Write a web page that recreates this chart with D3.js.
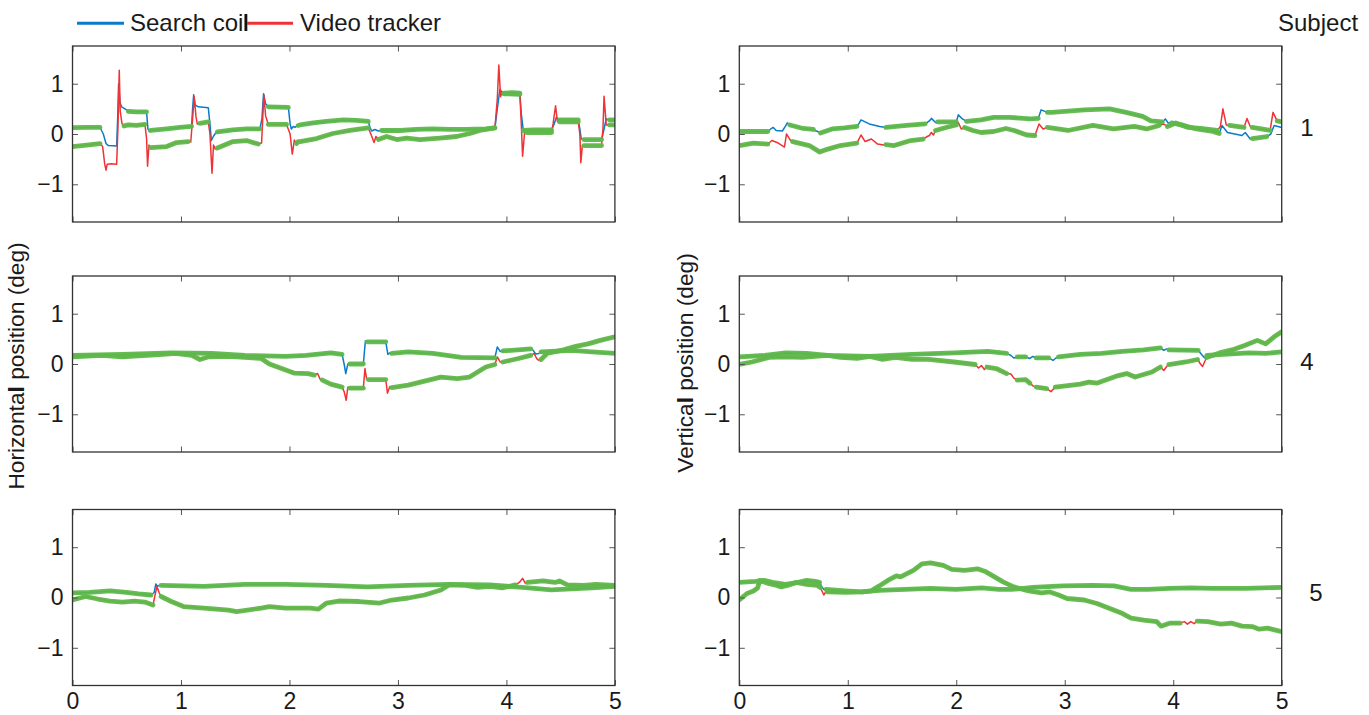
<!DOCTYPE html>
<html><head><meta charset="utf-8">
<script src="https://cdn.jsdelivr.net/npm/d3@7/dist/d3.min.js"></script>
<style>
html,body{margin:0;padding:0;background:#fff;}
svg{display:block;font-family:"Liberation Sans",Arial,Helvetica,sans-serif;}
</style></head>
<body><svg id="chart" width="1369" height="715"></svg>
<script>
// ---------- data ----------
const timeTicks = [0, 1, 2, 3, 4, 5];
const degTicks = [-1, 0, 1];
const seriesNames = ["Search coil", "Video tracker"];
const subjects = ["1", "4", "5"];
const axisLabels = ["Horizontal position (deg)", "Vertical position (deg)"];

// Subject 1, horizontal
const hCoil1 = [[0,0.125],[0.13,0.13],[0.254,0.13],[0.284,0.0],[0.309,-0.19],[0.33,-0.23],[0.407,-0.24],[0.416,0.3],[0.425,1.0],[0.438,0.62],[0.453,0.54],[0.499,0.48],[0.514,0.45],[0.59,0.44],[0.683,0.44],[0.695,0.10],[0.708,0.05],[0.72,0.07],[0.868,0.10],[0.99,0.13],[1.098,0.15],[1.107,0.5],[1.117,0.78],[1.13,0.58],[1.16,0.54],[1.252,0.52],[1.267,0.2],[1.28,-0.13],[1.298,-0.05],[1.32,0.02],[1.335,0.04],[1.48,0.08],[1.605,0.10],[1.727,0.10],[1.746,0.3],[1.761,0.80],[1.78,0.60],[1.805,0.54],[1.99,0.53],[2.006,0.2],[2.017,0.10],[2.035,0.15],[2.05,0.13],[2.08,0.17],[2.097,0.18],[2.22,0.22],[2.34,0.25],[2.497,0.28],[2.62,0.27],[2.727,0.25],[2.74,0.15],[2.757,0.06],[2.788,0.09],[2.82,0.06],[2.85,0.07],[3.02,0.07],[3.17,0.09],[3.32,0.10],[3.48,0.09],[3.63,0.09],[3.81,0.10],[3.894,0.12],[3.916,0.5],[3.94,0.89],[3.956,0.84],[3.977,0.81],[4.05,0.82],[4.124,0.81],[4.137,0.4],[4.156,0.07],[4.25,0.08],[4.416,0.08],[4.44,0.2],[4.46,0.33],[4.49,0.28],[4.662,0.28],[4.677,0.1],[4.69,-0.10],[4.714,-0.11],[4.877,-0.11],[4.90,0.1],[4.92,0.30],[4.95,0.28],[5.0,0.28]];
const hVideo1 = [[0,-0.25],[0.13,-0.22],[0.254,-0.19],[0.278,-0.25],[0.297,-0.6],[0.309,-0.72],[0.32,-0.60],[0.36,-0.59],[0.407,-0.60],[0.42,0.2],[0.431,1.27],[0.44,0.45],[0.456,0.21],[0.475,0.16],[0.514,0.18],[0.59,0.17],[0.668,0.19],[0.683,-0.1],[0.692,-0.64],[0.705,-0.22],[0.72,-0.27],[0.868,-0.25],[0.96,-0.17],[1.068,-0.15],[1.09,-0.16],[1.107,0.3],[1.122,0.74],[1.138,0.35],[1.15,0.20],[1.175,0.21],[1.252,0.24],[1.267,0.0],[1.286,-0.78],[1.30,-0.22],[1.316,-0.30],[1.335,-0.28],[1.48,-0.15],[1.605,-0.13],[1.712,-0.20],[1.743,-0.18],[1.764,0.78],[1.78,0.36],[1.805,0.19],[1.973,0.19],[2.006,0.0],[2.026,-0.40],[2.045,-0.12],[2.066,-0.19],[2.08,-0.15],[2.097,-0.15],[2.25,-0.09],[2.40,0.01],[2.558,0.07],[2.727,0.12],[2.75,0.0],[2.78,-0.17],[2.797,-0.05],[2.82,-0.11],[2.895,-0.05],[2.99,-0.11],[3.08,-0.08],[3.203,-0.11],[3.387,-0.08],[3.54,-0.05],[3.663,0.01],[3.755,0.07],[3.894,0.12],[3.916,0.7],[3.93,1.37],[3.946,0.74],[3.96,0.84],[3.977,0.80],[4.124,0.79],[4.137,0.2],[4.149,-0.44],[4.168,0.05],[4.186,0.03],[4.416,0.03],[4.43,0.2],[4.453,0.56],[4.47,0.25],[4.49,0.24],[4.662,0.24],[4.677,0.0],[4.686,-0.57],[4.70,-0.23],[4.714,-0.23],[4.877,-0.23],[4.89,0.1],[4.90,0.75],[4.92,0.18],[4.95,0.18],[5.0,0.18]];
const hCoilFix1 = [[0,0.254],[0.514,0.683],[0.72,1.098],[1.335,1.727],[1.805,1.99],[2.08,2.727],[2.85,3.894],[3.977,4.124],[4.156,4.416],[4.49,4.662],[4.714,4.877],[4.95,5]];
const hVideoFix1 = [[0,0.254],[0.475,0.668],[0.72,1.068],[1.175,1.252],[1.335,1.712],[1.805,1.973],[2.066,2.727],[2.82,3.894],[3.977,4.124],[4.186,4.416],[4.49,4.662],[4.714,4.877],[4.95,5]];

// Subject 1, vertical
const vCoil1 = [[0,0.05],[0.13,0.05],[0.263,0.05],[0.29,0.10],[0.313,0.13],[0.34,0.07],[0.397,0.06],[0.424,0.15],[0.443,0.22],[0.466,0.18],[0.588,0.11],[0.683,0.09],[0.71,0.06],[0.733,0.04],[0.748,0.02],[0.855,0.10],[0.97,0.12],[1.084,0.15],[1.107,0.22],[1.122,0.28],[1.198,0.20],[1.294,0.15],[1.351,0.13],[1.542,0.17],[1.714,0.20],[1.752,0.26],[1.771,0.31],[1.809,0.23],[1.828,0.24],[2.0,0.24],[2.019,0.38],[2.057,0.30],[2.095,0.25],[2.229,0.28],[2.344,0.33],[2.496,0.33],[2.687,0.30],[2.756,0.31],[2.782,0.48],[2.84,0.43],[2.878,0.43],[3.183,0.48],[3.412,0.50],[3.565,0.43],[3.718,0.35],[3.794,0.26],[3.90,0.24],[3.927,0.30],[3.954,0.22],[3.985,0.22],[4.099,0.17],[4.214,0.10],[4.366,0.05],[4.424,0.01],[4.45,0.17],[4.5,0.03],[4.634,-0.03],[4.664,0.03],[4.71,-0.10],[4.729,-0.09],[4.863,-0.05],[4.90,0.0],[4.93,0.17],[5.0,0.13]];
const vVideo1 = [[0,-0.23],[0.13,-0.18],[0.263,-0.20],[0.30,-0.13],[0.359,-0.18],[0.416,-0.26],[0.435,0.0],[0.473,-0.13],[0.492,-0.15],[0.645,-0.23],[0.721,-0.33],[0.74,-0.36],[0.817,-0.30],[0.931,-0.23],[1.084,-0.18],[1.122,-0.02],[1.16,-0.15],[1.218,-0.10],[1.275,-0.20],[1.332,-0.22],[1.351,-0.21],[1.427,-0.23],[1.58,-0.13],[1.695,-0.10],[1.733,-0.05],[1.752,-0.03],[1.771,0.03],[1.79,-0.02],[1.809,0.07],[1.905,0.13],[2.0,0.18],[2.019,0.23],[2.046,0.10],[2.076,0.13],[2.153,0.07],[2.229,0.03],[2.344,0.05],[2.458,0.11],[2.534,0.07],[2.649,-0.02],[2.725,-0.03],[2.763,0.20],[2.80,0.10],[2.84,0.13],[3.03,0.07],[3.26,0.17],[3.45,0.10],[3.641,0.15],[3.756,0.10],[3.87,0.17],[3.908,0.20],[3.947,0.15],[4.023,0.22],[4.137,0.13],[4.252,0.11],[4.405,0.07],[4.435,0.15],[4.458,0.50],[4.489,0.18],[4.519,0.17],[4.653,0.13],[4.68,0.31],[4.71,0.15],[4.729,0.13],[4.893,0.07],[4.92,0.43],[4.958,0.26],[5.0,0.24]];
const vCoilFix1 = [[0,0.263],[0.466,0.683],[0.748,1.084],[1.351,1.714],[1.828,2.0],[2.095,2.756],[2.84,3.90],[3.985,4.424],[4.729,4.863]];
const vVideoFix1 = [[0,0.263],[0.492,1.084],[1.351,1.695],[1.809,2.0],[2.076,2.725],[2.84,3.87],[3.947,4.405],[4.519,4.653],[4.729,4.893],[4.958,5]];

// Subject 4, horizontal
const hCoil4 = [[0,0.17],[0.459,0.19],[0.911,0.22],[1.288,0.21],[1.589,0.17],[1.965,0.15],[2.154,0.17],[2.38,0.22],[2.485,0.19],[2.504,0.0],[2.519,-0.19],[2.538,0.0],[2.556,0.0],[2.681,0.0],[2.70,0.46],[2.718,0.44],[2.888,0.44],[2.907,0.19],[2.925,0.22],[2.944,0.21],[3.095,0.24],[3.321,0.21],[3.584,0.13],[3.893,0.12],[3.916,0.34],[3.942,0.25],[3.968,0.26],[4.224,0.30],[4.243,0.28],[4.27,0.20],[4.30,0.21],[4.319,0.24],[4.601,0.27],[4.789,0.24],[5.0,0.21]];
const hVideo4 = [[0,0.14],[0.271,0.17],[0.459,0.14],[0.836,0.19],[0.949,0.21],[1.099,0.17],[1.175,0.09],[1.25,0.14],[1.438,0.15],[1.589,0.13],[1.739,0.11],[1.815,0.0],[1.928,-0.09],[2.041,-0.18],[2.173,-0.19],[2.229,-0.22],[2.259,-0.19],[2.285,-0.31],[2.304,-0.32],[2.38,-0.40],[2.485,-0.46],[2.504,-0.55],[2.523,-0.72],[2.538,-0.46],[2.556,-0.48],[2.681,-0.48],[2.696,-0.09],[2.711,-0.29],[2.726,-0.31],[2.888,-0.31],[2.903,-0.58],[2.925,-0.45],[2.944,-0.47],[3.095,-0.42],[3.283,-0.32],[3.396,-0.26],[3.547,-0.29],[3.66,-0.26],[3.735,-0.16],[3.81,-0.06],[3.893,-0.01],[3.916,0.14],[3.942,0.04],[3.968,0.04],[4.111,0.11],[4.224,0.17],[4.255,0.21],[4.281,0.10],[4.30,0.07],[4.319,0.09],[4.375,0.21],[4.526,0.28],[4.639,0.35],[4.752,0.40],[4.865,0.47],[5.0,0.54]];
const hCoilFix4 = [[0,2.485],[2.556,2.681],[2.718,2.888],[2.944,3.893],[3.968,4.224],[4.319,5]];
const hVideoFix4 = [[0,2.229],[2.304,2.485],[2.556,2.681],[2.726,2.888],[2.944,3.893],[3.968,4.224],[4.319,5]];

// Subject 4, vertical
const vCoil4 = [[0,0.14],[0.233,0.17],[0.427,0.22],[0.621,0.21],[0.815,0.17],[1.203,0.15],[1.592,0.19],[1.98,0.22],[2.29,0.25],[2.465,0.21],[2.504,0.17],[2.531,0.12],[2.562,0.14],[2.64,0.14],[2.678,0.11],[2.706,0.15],[2.737,0.12],[2.853,0.12],[2.892,0.07],[2.919,0.12],[2.942,0.14],[3.144,0.19],[3.339,0.21],[3.533,0.25],[3.727,0.28],[3.882,0.32],[3.913,0.27],[3.94,0.30],[3.96,0.28],[4.231,0.27],[4.262,0.19],[4.29,0.12],[4.309,0.17],[4.542,0.20],[4.697,0.22],[4.852,0.21],[5.0,0.24]];
const vVideo4 = [[0,-0.01],[0.116,0.04],[0.272,0.13],[0.427,0.14],[0.582,0.13],[0.815,0.17],[0.932,0.13],[1.087,0.11],[1.203,0.15],[1.32,0.09],[1.436,0.13],[1.592,0.09],[1.747,0.09],[1.98,0.04],[2.174,-0.01],[2.205,-0.08],[2.232,-0.03],[2.259,-0.11],[2.283,-0.06],[2.368,-0.09],[2.465,-0.19],[2.504,-0.20],[2.531,-0.28],[2.562,-0.32],[2.64,-0.31],[2.678,-0.38],[2.71,-0.44],[2.737,-0.46],[2.834,-0.49],[2.873,-0.55],[2.912,-0.46],[3.067,-0.42],[3.144,-0.40],[3.222,-0.36],[3.30,-0.38],[3.416,-0.29],[3.494,-0.23],[3.571,-0.19],[3.649,-0.26],[3.727,-0.21],[3.804,-0.16],[3.882,-0.06],[3.913,-0.13],[3.94,-0.05],[3.96,-0.01],[4.115,0.04],[4.224,0.09],[4.251,0.0],[4.27,-0.05],[4.293,0.06],[4.309,0.13],[4.426,0.22],[4.542,0.28],[4.658,0.37],[4.775,0.47],[4.852,0.40],[4.93,0.54],[5.0,0.64]];
const vCoilFix4 = [[0,2.465],[2.562,2.64],[2.737,2.853],[2.942,3.882],[3.96,4.231],[4.309,5]];
const vVideoFix4 = [[0,2.174],[2.283,2.465],[2.562,2.678],[2.737,2.834],[2.912,3.882],[3.96,4.224],[4.309,5]];

// Subject 5, horizontal
const hCoil5 = [[0,0.09],[0.158,0.10],[0.346,0.13],[0.497,0.10],[0.61,0.07],[0.723,0.05],[0.753,0.10],[0.768,0.27],[0.783,0.22],[0.798,0.24],[0.817,0.24],[1.212,0.22],[1.589,0.26],[1.965,0.26],[2.342,0.24],[2.718,0.21],[3.095,0.24],[3.471,0.26],[3.848,0.25],[4.149,0.20],[4.413,0.15],[4.789,0.19],[5.0,0.22]];
const hVideo5 = [[0,-0.05],[0.12,0.02],[0.233,-0.03],[0.346,-0.07],[0.459,-0.09],[0.572,-0.07],[0.666,-0.09],[0.742,-0.15],[0.761,0.05],[0.779,0.22],[0.798,0.10],[0.817,0.02],[0.911,-0.08],[1.024,-0.18],[1.212,-0.21],[1.438,-0.25],[1.514,-0.28],[1.739,-0.21],[1.815,-0.18],[1.965,-0.21],[2.191,-0.21],[2.267,-0.23],[2.342,-0.11],[2.455,-0.07],[2.643,-0.08],[2.831,-0.11],[2.944,-0.05],[3.095,-0.01],[3.245,0.05],[3.396,0.15],[3.471,0.25],[3.622,0.24],[3.735,0.20],[3.848,0.22],[3.961,0.19],[4.081,0.25],[4.119,0.30],[4.149,0.38],[4.175,0.28],[4.194,0.30],[4.337,0.33],[4.45,0.30],[4.488,0.33],[4.563,0.25],[4.714,0.24],[4.827,0.26],[5.0,0.24]];
const hCoilFix5 = [[0,0.723],[0.817,5]];
const hVideoFix5 = [[0,0.742],[0.817,4.081],[4.194,5]];

// Subject 5, vertical
const vCoil5 = [[0,0.30],[0.149,0.32],[0.228,0.34],[0.307,0.30],[0.425,0.26],[0.543,0.30],[0.622,0.34],[0.70,0.32],[0.74,0.30],[0.759,0.22],[0.779,0.16],[0.799,0.16],[0.976,0.13],[1.133,0.11],[1.29,0.14],[1.526,0.16],[1.762,0.18],[1.998,0.16],[2.234,0.19],[2.392,0.16],[2.51,0.16],[2.707,0.20],[2.982,0.23],[3.257,0.24],[3.454,0.23],[3.611,0.16],[3.769,0.16],[3.966,0.18],[4.162,0.19],[4.359,0.18],[4.674,0.18],[5.0,0.20]];
const vVideo5 = [[0,-0.05],[0.071,0.08],[0.13,0.13],[0.169,0.19],[0.189,0.34],[0.267,0.28],[0.346,0.24],[0.386,0.21],[0.445,0.24],[0.523,0.30],[0.622,0.26],[0.72,0.24],[0.747,0.20],[0.779,0.05],[0.799,0.12],[0.81,0.11],[0.976,0.10],[1.133,0.11],[1.212,0.13],[1.29,0.23],[1.369,0.34],[1.448,0.43],[1.487,0.41],[1.605,0.54],[1.684,0.67],[1.762,0.69],[1.88,0.64],[1.959,0.56],[2.077,0.54],[2.195,0.57],[2.274,0.51],[2.353,0.41],[2.431,0.31],[2.53,0.21],[2.667,0.13],[2.785,0.09],[2.864,0.11],[2.943,0.05],[3.021,-0.02],[3.179,-0.05],[3.297,-0.12],[3.415,-0.22],[3.533,-0.32],[3.611,-0.41],[3.729,-0.45],[3.848,-0.48],[3.887,-0.57],[3.966,-0.51],[4.064,-0.51],[4.103,-0.48],[4.131,-0.53],[4.162,-0.48],[4.193,-0.52],[4.221,-0.47],[4.32,-0.48],[4.438,-0.53],[4.536,-0.51],[4.634,-0.57],[4.733,-0.58],[4.792,-0.63],[4.87,-0.61],[5.0,-0.68]];
const vCoilFix5 = [[0,0.74],[0.799,5]];
const vVideoFix5 = [[0,0.747],[0.81,4.064],[4.221,5]];

// ---------- layout / style ----------
const colX = [72.5, 739.3], panelW = 542.4;
const rowY = [46, 276, 509.5], panelH = 176;
const COIL = "#0a7bc8", VIDEO = "#ee3236", FIX = "#5eb84a";
const FONT = 23;

const panels = [
  {row:0,col:0,coil:hCoil1,video:hVideo1,cf:hCoilFix1,vf:hVideoFix1},
  {row:0,col:1,coil:vCoil1,video:vVideo1,cf:vCoilFix1,vf:vVideoFix1},
  {row:1,col:0,coil:hCoil4,video:hVideo4,cf:hCoilFix4,vf:hVideoFix4},
  {row:1,col:1,coil:vCoil4,video:vVideo4,cf:vCoilFix4,vf:vVideoFix4},
  {row:2,col:0,coil:hCoil5,video:hVideo5,cf:hCoilFix5,vf:hVideoFix5},
  {row:2,col:1,coil:vCoil5,video:vVideo5,cf:vCoilFix5,vf:vVideoFix5}
];

const svg = d3.select("#chart");
const x = d3.scaleLinear().domain([0,5]).range([0,panelW]);
const y = d3.scaleLinear().domain([-1.75,1.75]).range([panelH,0]);
const line = d3.line().x(d=>x(d[0])).y(d=>y(d[1]));

panels.forEach((p,i)=>{
  const g = svg.append("g").attr("transform",`translate(${colX[p.col]},${rowY[p.row]})`);
  const cid = "clip"+i;
  g.append("clipPath").attr("id",cid).append("rect").attr("width",panelW).attr("height",panelH);
  const plot = g.append("g").attr("clip-path",`url(#${cid})`);

  plot.append("path").datum(p.coil).attr("d",line).attr("fill","none")
    .attr("stroke",COIL).attr("stroke-width",1.5).attr("stroke-linejoin","round");
  plot.append("path").datum(p.video).attr("d",line).attr("fill","none")
    .attr("stroke",VIDEO).attr("stroke-width",1.5).attr("stroke-linejoin","round");

  const segs = [];
  [[p.coil,p.cf],[p.video,p.vf]].forEach(([s,fix])=>{
    fix.forEach(([a,b])=>segs.push(s.filter(d=>d[0]>=a-1e-6 && d[0]<=b+1e-6)));
  });
  plot.selectAll("path.fix").data(segs).join("path").attr("class","fix")
    .attr("d",line).attr("fill","none").attr("stroke",FIX)
    .attr("stroke-width",4.8).attr("stroke-linecap","round").attr("stroke-linejoin","round")
    .attr("stroke-opacity",0.95);

  const tk = 5.5;
  const bottom = d3.axisBottom(x).tickValues(timeTicks).tickSizeInner(-tk).tickSizeOuter(0).tickPadding(7.5)
    .tickFormat(p.row===2 ? d3.format("d") : ()=>"");
  const top = d3.axisTop(x).tickValues(timeTicks).tickSizeInner(-tk).tickSizeOuter(0).tickFormat(()=>"");
  const left = d3.axisLeft(y).tickValues(degTicks).tickSizeInner(-tk).tickSizeOuter(0).tickPadding(9).tickFormat(d3.format("d"));
  const right = d3.axisRight(y).tickValues(degTicks).tickSizeInner(-tk).tickSizeOuter(0).tickFormat(()=>"");

  const ax = [
    g.append("g").attr("transform",`translate(0,${panelH})`).call(bottom),
    g.append("g").call(top),
    g.append("g").call(left),
    g.append("g").attr("transform",`translate(${panelW},0)`).call(right)
  ];
  ax.forEach(a=>{
    a.select(".domain").remove();
    a.selectAll(".tick line").attr("stroke","#555").attr("stroke-width",1);
    a.selectAll(".tick text").attr("fill","#1a1a1a").style("font-size",FONT+"px")
      .style("font-family","'Liberation Sans',Arial,Helvetica,sans-serif");
  });
  g.append("rect").attr("width",panelW).attr("height",panelH)
    .attr("fill","none").attr("stroke","#333").attr("stroke-width",1.3);
});

// legend
const lg = svg.append("g").style("font-size","24px").attr("fill","#1a1a1a");
lg.append("line").attr("x1",77).attr("x2",124).attr("y1",23.3).attr("y2",23.3).attr("stroke",COIL).attr("stroke-width",3);
lg.append("text").attr("x",130).attr("y",31).text(seriesNames[0]);
lg.append("line").attr("x1",247).attr("x2",293).attr("y1",23.3).attr("y2",23.3).attr("stroke",VIDEO).attr("stroke-width",3);
lg.append("line").attr("x1",245.6).attr("x2",245.6).attr("y1",14).attr("y2",31).attr("stroke","#111").attr("stroke-width",2.2);
lg.append("text").attr("x",300).attr("y",31).text(seriesNames[1]);

// subject labels
svg.append("text").attr("x",1278).attr("y",31).style("font-size","24px").attr("fill","#1a1a1a").text("Subject");
const subjPos = [[1307,136],[1307,370],[1316,601]];
subjects.forEach((s,i)=>svg.append("text").attr("x",subjPos[i][0]).attr("y",subjPos[i][1])
  .attr("text-anchor","middle").style("font-size","24px").attr("fill","#1a1a1a").text(s));

// y axis labels (with the bold 'l' seen in the original)
function axisLabel(txt, bx, cy){
  const idx = txt.indexOf(" ");
  const t = svg.append("text").attr("transform",`translate(${bx},${cy}) rotate(-90)`)
    .attr("text-anchor","middle").style("font-size","22.7px").attr("fill","#1a1a1a");
  t.append("tspan").text(txt.slice(0,idx-1));
  t.append("tspan").style("font-weight","bold").text(txt.slice(idx-1,idx));
  t.append("tspan").text(txt.slice(idx));
}
axisLabel(axisLabels[0], 24, 366);
axisLabel(axisLabels[1], 693, 363);
</script></body></html>
